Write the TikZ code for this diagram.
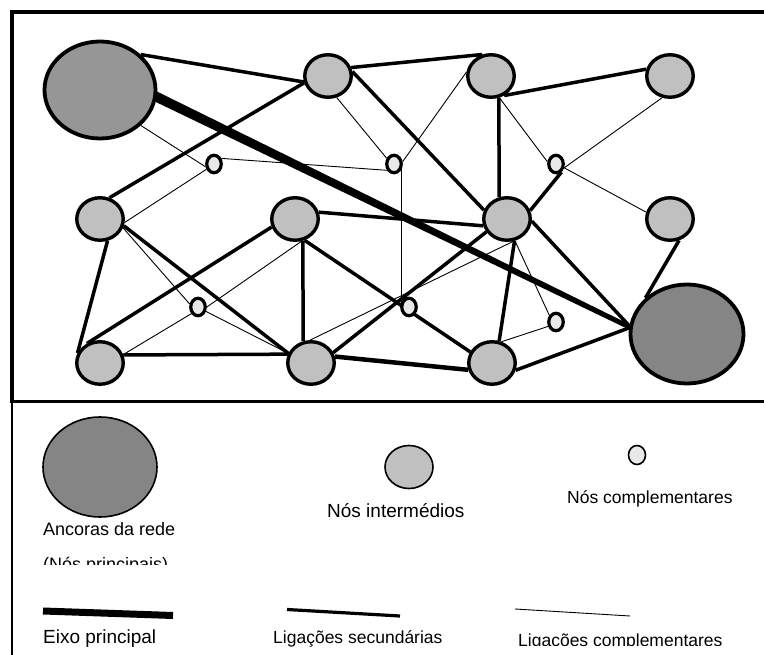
\documentclass[tikz,border=0pt]{standalone}
\usepackage{fontspec}
\setmainfont{Liberation Sans}
\usetikzlibrary{shapes.geometric,calc}
\pgfdeclarelayer{bg}
\pgfsetlayers{bg,main}
\definecolor{anchorA}{HTML}{969696}
\definecolor{anchorB}{HTML}{858585}
\definecolor{midgray}{HTML}{C0C0C0}
\definecolor{compgray}{HTML}{E8E8E8}
\begin{document}
\begin{tikzpicture}[x=1pt,y=-1pt,
  anchornode/.style={ellipse,draw,line width=3.8pt,minimum width=111pt,minimum height=97pt,inner sep=0pt},
  midnode/.style={ellipse,draw,fill=midgray,line width=3.4pt,minimum width=46.5pt,minimum height=42.5pt,inner sep=0pt},
  compnode/.style={ellipse,draw,fill=compgray,line width=3.2pt,minimum width=14.5pt,minimum height=17.5pt,inner sep=0pt},
  seclink/.style={line width=3.5pt},
  complink/.style={line width=0.9pt},
  frameline/.style={line width=3.2pt},
  legtext/.style={font=\fontsize{17.5}{21}\selectfont,inner sep=0pt,anchor=base west},
  bigtext/.style={font=\fontsize{19}{22}\selectfont,inner sep=0pt,anchor=base west},
  anctext/.style={font=\fontsize{18}{22}\selectfont,inner sep=0pt,anchor=base west},
]
\useasboundingbox (0,0) rectangle (764,655);
% frame
\draw[frameline] (10.4,12) -- (780,12);
\draw[frameline] (12,10.4) -- (12,401.5);
\draw[line width=2.4pt] (12,401) -- (12,670);
\draw[frameline] (10.4,401.5) -- (780,401.5);

% nodes
\node[anchornode,fill=anchorA] (A1) at (100,90) {};
\node[anchornode,fill=anchorB,minimum width=113pt,minimum height=99pt] (A2) at (687,334) {};
\node[midnode] (N1) at (328,76) {};
\node[midnode] (N2) at (491,76) {};
\node[midnode] (N3) at (670,76) {};
\node[midnode] (N4) at (100,219) {};
\node[midnode] (N5) at (295,219) {};
\node[midnode] (N6) at (507,219) {};
\node[midnode] (N7) at (670,219) {};
\node[midnode] (N8) at (100,363) {};
\node[midnode] (N9) at (311,363) {};
\node[midnode] (N10) at (492,363) {};
\node[compnode] (C1) at (214,164) {};
\node[compnode] (C2) at (394,164) {};
\node[compnode] (C3) at (556,164) {};
\node[compnode] (C4) at (198,307) {};
\node[compnode] (C5) at (409,307) {};
\node[compnode] (C6) at (556,322) {};

\begin{pgfonlayer}{bg}
% main axis (tapered)
\coordinate (ax1) at ($(A1.-7)!-8pt!(A2.173)$);
\coordinate (ax2) at ($(A2.173)!-6pt!(A1.-7)$);
\fill ($(ax1)!5pt!90:(ax2)$) -- ($(ax2)!2.4pt!-90:(ax1)$) -- ($(ax2)!2.4pt!90:(ax1)$) -- ($(ax1)!5pt!-90:(ax2)$) -- cycle;
% secondary links
\draw[seclink] (A1.41) -- (N1.194);
\draw[seclink] (N1.196) -- (N4.66);
\draw[seclink] (N1.20) -- (N2.112);
\draw[seclink] (N1.10) -- (N6.159);
\draw[seclink] (N2.-70) -- (N6.110);
\draw[seclink] (N2.-56) -- (N3.164);
\draw[seclink] (C3.-56) -- (N6.20);
\draw[seclink] (N4.-16) -- (N9.157);
\draw[seclink] (N4.-71) -- (N8.156);
\draw[seclink] (N8.124) -- (N5.199);
\draw[seclink] (N8.19) -- (N9.159);
\draw[seclink] (N5.-70) -- (N9.110);
\draw[seclink] (N5.16) -- (N6.196);
\draw[seclink] (N5.-66) -- (N10.153);
\draw[seclink] (N6.212) -- (N9.25);
\draw[seclink,line width=4.5pt] (N9.15) -- (N10.196);
\draw[seclink] (N10.-17) -- (A2.174);
\draw[seclink] (N6.-5) -- (A2.172);
\draw[seclink] (N6.-71) -- (N10.72);
\draw[seclink] (N7.-67) -- (A2.139);
% complementary links
\draw[complink] (A1.-41) -- (C1.198);
\draw[complink] (C1.215) -- (N4.-8);
\draw[complink] (C1.37) -- (C2.222);
\draw[complink] (N1.-68) -- (C2.142);
\draw[complink] (C2.15) -- (N2.171);
\draw[complink] (C2.-35) -- (C2.-35 |- C5.center);
\draw[complink] (N2.-69) -- (C3.165);
\draw[complink] (N3.250) -- (C3.-25);
\draw[complink] (C3.-25) -- (N7.164);
\draw[complink] (N4.-21) -- (C4.160);
\draw[complink] (C4.-29) -- (N9.157);
\draw[complink] (N8.20) -- (C4.225);
\draw[complink] (C4.0) -- (N5.-73);
\draw[complink] (N9.92) -- (N6.-73);
\draw[complink] (N10.66) -- (C6.209);
\draw[complink] (N6.-70) -- (C6.135);
\end{pgfonlayer}

% legend
\node[ellipse,draw,fill=anchorB,line width=1.6pt,minimum width=114pt,minimum height=100pt,inner sep=0pt] (LA) at (100,467) {};
\node[ellipse,draw,fill=midgray,line width=1.6pt,minimum width=48pt,minimum height=43pt,inner sep=0pt] (LN) at (409,467) {};
\node[ellipse,draw,fill=compgray,line width=1.6pt,minimum width=17pt,minimum height=19pt,inner sep=0pt] (LC) at (637,455) {};
\node[anctext] (tA1) at (43,535) {Ancoras da rede};
\begin{scope}
\clip (0,540) rectangle (300,564);
\node[anctext] (tA2) at (43,570.5) {(Nós principais)};
\end{scope}
\node[bigtext] (tN) at (327,517) {Nós intermédios};
\node[legtext] (tC) at (567,503) {Nós complementares};

\coordinate (e1) at (43,611);
\coordinate (e2) at (173,615.5);
\draw[line width=7pt] (e1) -- (e2);
\coordinate (s1) at (287,609.5);
\coordinate (s2) at (400,616);
\draw[line width=3.2pt] (s1) -- (s2);
\coordinate (k1) at (515,609);
\coordinate (k2) at (630,616);
\draw[line width=0.9pt] (k1) -- (k2);
\node[bigtext] (tE) at (43,643) {Eixo principal};
\node[legtext] (tS) at (273,643) {Ligações secundárias};
\begin{scope}
\clip (400,600) rectangle (764,645.5);
\node[legtext] (tK) at (518,646.5) {Ligações complementares};
\end{scope}
\end{tikzpicture}
\end{document}
